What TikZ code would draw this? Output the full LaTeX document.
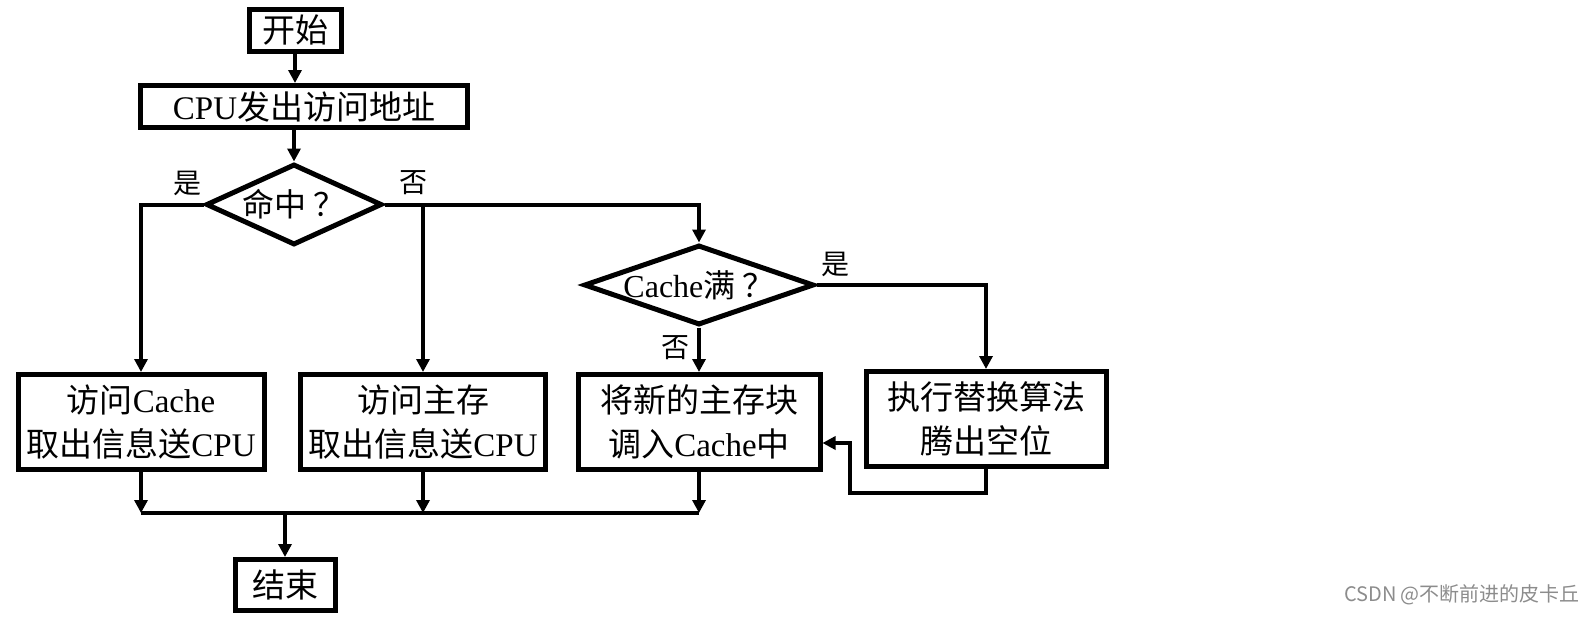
\documentclass[tikz,border=0pt]{standalone}
\usepackage{fontspec}
\setmainfont{Liberation Serif}
\newfontfamily\cjk{Noto Sans CJK SC}
\usetikzlibrary{shapes.geometric,arrows.meta}
\newcommand{\zh}[1]{{\cjk #1}}

\begin{document}
\begin{tikzpicture}[x=0.5pt,y=-0.5pt]
 \tikzset{box/.style={draw, line width=2.5pt, inner sep=0pt, align=center, font=\fontsize{16.5pt}{22pt}\selectfont},
  decision/.style={draw, diamond, line width=2.5pt, inner sep=-2pt, font=\fontsize{16pt}{18pt}\selectfont},
  lbl/.style={font=\fontsize{14pt}{16pt}\selectfont\cjk},
  flow/.style={line width=2pt, -{Triangle[length=6.5pt,width=6.5pt]}},
  link/.style={line width=2pt}}
  \useasboundingbox (0,0) rectangle (1594,621);
  \node[box, minimum width=46pt, minimum height=21pt] (Start) at (295,30.5) {\zh{开始}};
  \node[box, minimum width=163.5pt, minimum height=21pt] (Cpu) at (304,106.5) {CPU\zh{发出访问地址}};
  \node[decision, aspect=2.17, minimum width=88pt, minimum height=40.5pt] (Hit) at (294,204.5) {\zh{命中 ？}};
  \node[decision, aspect=2.875, minimum width=115pt, minimum height=40pt] (Full) at (699,285) {Cache\zh{满 ？}};
  \node[box, minimum width=123pt, minimum height=47.5pt] (ReadCache) at (141,422) {\zh{访问}Cache\\\zh{取出信息送}CPU};
  \node[box, minimum width=122.5pt, minimum height=47.5pt] (ReadMem) at (423,422) {\zh{访问主存}\\\zh{取出信息送}CPU};
  \node[box, minimum width=121pt, minimum height=47.5pt] (Load) at (699,422) {\zh{将新的主存块}\\\zh{调入}Cache\zh{中}};
  \node[box, minimum width=120pt, minimum height=47.5pt] (Replace) at (986,419) {\zh{执行替换算法}\\\zh{腾出空位}};
  \node[box, minimum width=50pt, minimum height=25.5pt] (End) at (285,585) {\zh{结束}};
  \node[lbl] (HitYes) at (187,183) {是};
  \node[lbl] (HitNo) at (413,183) {否};
  \node[lbl] (FullYes) at (835,264) {是};
  \node[lbl] (FullNo) at (675,348) {否};
  \node[font=\fontsize{10pt}{12pt}\selectfont\cjk, text=black!45] (Mark) at (1462,595) {CSDN @不断前进的皮卡丘};
  \coordinate (Merge) at (285,513);
  \coordinate (Back) at (850,493);
  % connectors
  \draw[flow] (Start) -- (Start |- Cpu.north);
  \draw[flow] (Hit |- Cpu.south) -- (Hit.north);
  \draw[flow] (Hit.west) -| (ReadCache.north);
  \draw[flow] (Hit.east) -| (Full.north);
  \draw[flow] (Hit.east -| ReadMem.north) -- (ReadMem.north);
  \draw[flow] (Full.south) -- (Full.south |- Load.north);
  \draw[flow] (Full.east) -| (Replace.north);
  \draw[flow] (Replace.south) |- (Back) |- ([yshift=-10.5pt]Load.east);
  \draw[flow] (ReadCache.south) -- (ReadCache.south |- Merge);
  \draw[flow] (ReadMem.south) -- (ReadMem.south |- Merge);
  \draw[flow] (Load.south) -- (Load.south |- Merge);
  \draw[link] (ReadCache.south |- Merge) -- (Load.south |- Merge);
  \draw[flow] (Merge) -- (End.north);
\end{tikzpicture}
\end{document}
